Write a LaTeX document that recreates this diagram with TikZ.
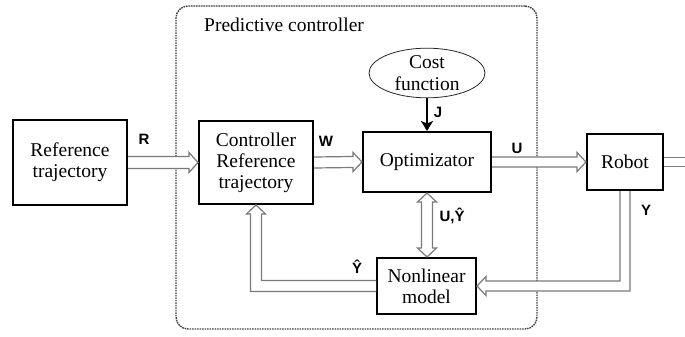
\documentclass[tikz,border=0pt]{standalone}
\usepackage{fontspec}
\setmainfont{Liberation Serif}
\newfontfamily\lblfont{Liberation Sans}
\usetikzlibrary{calc,arrows.meta,shapes.geometric}
\definecolor{arrgray}{HTML}{7A7A7A}
\definecolor{dashgray}{HTML}{404040}
\begin{document}
\begin{tikzpicture}[x=1pt,y=-1pt,
  box/.style={draw=black, line width=2pt, fill=white, align=center, inner sep=0pt,
    font=\fontsize{19.5}{21}\selectfont},
  fat/.style={draw=arrgray, line width=1.2pt, fill=white, line join=miter},
  lbl/.style={font=\lblfont\bfseries\fontsize{15}{15}\selectfont, inner sep=0pt, anchor=base},
  txt/.style={font=\fontsize{19.5}{21}\selectfont, inner sep=0pt}
]
\useasboundingbox (0,0) rectangle (685,337);
\fill[white] (0,0) rectangle (685,337);

% predictive controller frame
\node[draw=dashgray, line width=1.4pt, dash pattern=on 1.6pt off 0.9pt, rounded corners=12pt,
  minimum width=361, minimum height=323, inner sep=0pt] (pc) at (356.5,167.5) {};
\node[txt, anchor=base west] (pclbl) at (204,32) {Predictive controller};

% nodes
\node[box, minimum width=114, minimum height=85] (ref) at (70,162.5) {Reference\\trajectory};
\node[box, minimum width=114, minimum height=83] (crt) at (256,162.5) {Controller\\Reference\\trajectory};
\node[box, minimum width=128, minimum height=60] (opt) at (427,162) {Optimizator};
\node[box, minimum width=76, minimum height=56] (robot) at (625,162) {Robot};
\node[box, minimum width=99, minimum height=56] (nonlin) at (426.5,286) {Nonlinear\\model};
\node[ellipse, draw=black!85, line width=0.8pt, minimum width=116, minimum height=48,
  inner sep=0pt, align=center, font=\fontsize{19.5}{22}\selectfont] (cost) at (427,73) {Cost\\function};

\coordinate (outend) at (690,162);
\coordinate (yc) at (robot.south |- nonlin.east);
\coordinate (hc) at (crt.south |- nonlin.west);

% R arrow
\path[fat] ($(ref.east)+(0,-6)$) -- ($(crt.west)+(-9,-6)$) -- ($(crt.west)+(-9,-10)$) -- (crt.west)
  -- ($(crt.west)+(-9,10)$) -- ($(crt.west)+(-9,6)$) -- ($(ref.east)+(0,6)$);
% W arrow
\path[fat] ($(crt.east)+(0,-5.5)$) -- ($(opt.west)+(-9,-5.5)$) -- ($(opt.west)+(-9,-9.5)$) -- (opt.west)
  -- ($(opt.west)+(-9,9.5)$) -- ($(opt.west)+(-9,5.5)$) -- ($(crt.east)+(0,5.5)$);
% U arrow
\path[fat] ($(opt.east)+(0,-5)$) -- ($(robot.west)+(-9,-5)$) -- ($(robot.west)+(-9,-9.5)$) -- (robot.west)
  -- ($(robot.west)+(-9,9.5)$) -- ($(robot.west)+(-9,5)$) -- ($(opt.east)+(0,5)$);
% output
\draw[arrgray, line width=1.2pt] ($(robot.east)+(0,-4.5)$) -- ($(robot.east -| outend)+(0,-4.5)$);
\draw[arrgray, line width=1.2pt] ($(robot.east)+(0,4.5)$) -- ($(robot.east -| outend)+(0,4.5)$);
% U,Y double arrow
\path[fat] (opt.south) -- ($(opt.south)+(9.5,9)$) -- ($(opt.south)+(5.5,9)$)
  -- ($(opt.south |- nonlin.north)+(5.5,-9)$) -- ($(opt.south |- nonlin.north)+(9.5,-9)$)
  -- (opt.south |- nonlin.north) -- ($(opt.south |- nonlin.north)+(-9.5,-9)$)
  -- ($(opt.south |- nonlin.north)+(-5.5,-9)$) -- ($(opt.south)+(-5.5,9)$)
  -- ($(opt.south)+(-9.5,9)$) -- cycle;
% Y feedback from robot
\path[fat] ($(robot.south)+(5,0)$) -- ($(yc)+(5,5)$) -- ($(nonlin.east)+(9,5)$)
  -- ($(nonlin.east)+(9,9.5)$) -- (nonlin.east) -- ($(nonlin.east)+(9,-9.5)$)
  -- ($(nonlin.east)+(9,-5)$) -- ($(yc)+(-5,-5)$) -- ($(robot.south)+(-5,0)$);
% Yhat feedback
\path[fat] ($(nonlin.west)+(0,-5.5)$) -- ($(hc)+(5.5,-5.5)$) -- ($(crt.south)+(5.5,9)$)
  -- ($(crt.south)+(9.5,9)$) -- (crt.south) -- ($(crt.south)+(-9.5,9)$)
  -- ($(crt.south)+(-5.5,9)$) -- ($(hc)+(-5.5,5.5)$) -- ($(nonlin.west)+(0,5.5)$);
% J arrow
\draw[line width=2.5pt, -{Stealth[length=10pt,width=12pt,inset=2.5pt]}] (cost.south) -- (cost.south |- opt.north);

% labels
\node[lbl] (lR) at (144,144) {R};
\node[lbl] (lW) at (326,146) {W};
\node[lbl] (lU) at (517,153) {U};
\node[lbl] (lJ) at (438,117) {J};
\node[lbl] (lY) at (646,215) {Y};
\node[lbl] (lUY) at (452,221) {U,Ŷ};
\node[lbl] (lYh) at (357,273) {Ŷ};
\end{tikzpicture}
\end{document}
